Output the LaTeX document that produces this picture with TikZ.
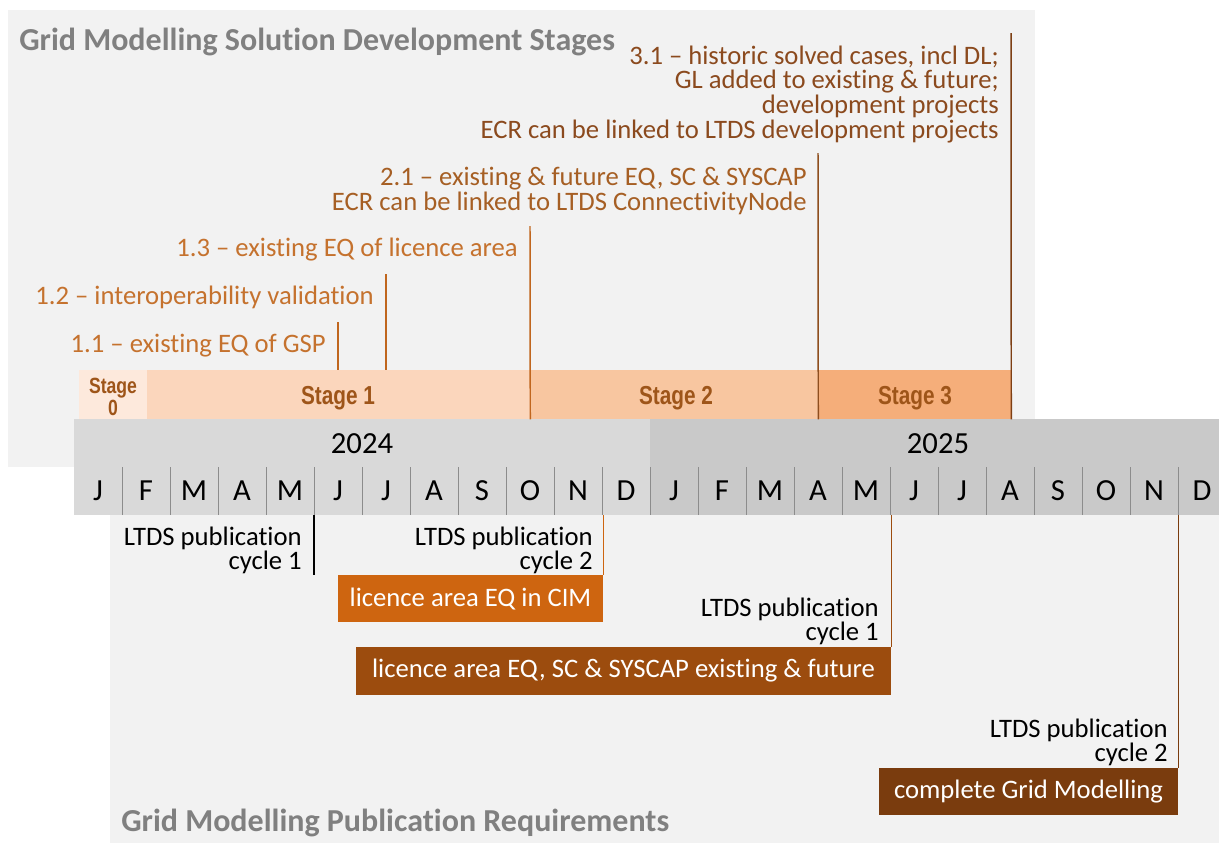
\documentclass[tikz,border=0pt]{standalone}
\usepackage{fontspec}
\setmainfont{Carlito}[Ligatures=NoCommon]
\newfontfamily\narrowsans{Liberation Sans}
\usetikzlibrary{positioning}

\definecolor{panelgray}{HTML}{F2F2F2}
\definecolor{yeargrayA}{HTML}{D9D9D9}
\definecolor{yeargrayB}{HTML}{C9C9C9}
\definecolor{stagezero}{HTML}{FDE9DC}
\definecolor{stageone}{HTML}{FBD6BC}
\definecolor{stagetwo}{HTML}{F8C6A0}
\definecolor{stagethree}{HTML}{F5AE7A}
\definecolor{stagetext}{HTML}{9E5519}
\definecolor{mileone}{HTML}{C5722E}
\definecolor{miletwo}{HTML}{A65F24}
\definecolor{milethree}{HTML}{8B4A1E}
\definecolor{lineone}{HTML}{C0661E}
\definecolor{linetwo}{HTML}{8E4E1E}
\definecolor{linethree}{HTML}{7D3F14}
\definecolor{boxone}{HTML}{CE6510}
\definecolor{boxtwo}{HTML}{9C4C0E}
\definecolor{boxthree}{HTML}{7A3C0E}
\definecolor{titlegray}{HTML}{808080}

\newlength\px
\setlength\px{0.75pt}

\begin{document}
\begin{tikzpicture}[x=0.75pt,y=-0.75pt]
  \tikzstyle{band}=[rectangle, inner sep=0pt, draw=none]
  \tikzstyle{stagelbl}=[anchor=base, inner sep=0pt, text=stagetext, font=\narrowsans\bfseries\fontsize{19.5}{20}\selectfont]
  \tikzstyle{yearlbl}=[anchor=base, inner sep=0pt, font=\fontsize{23}{24}\selectfont]
  \tikzstyle{monthlbl}=[anchor=base, inner sep=0pt, font=\fontsize{23}{24}\selectfont]
  \tikzstyle{monthsep}=[draw=black!45, line width=0.6pt]
  \tikzstyle{miletext}=[anchor=base east, align=right, inner sep=0pt, font=\fontsize{20}{18.5}\selectfont]
  \tikzstyle{mileline}=[line width=1.1pt]
  \tikzstyle{pubtext}=[anchor=base east, align=right, inner sep=0pt, font=\fontsize{20}{18}\selectfont]
  \tikzstyle{publine}=[line width=1.1pt]
  \tikzstyle{reqbox}=[rectangle, inner sep=0pt, text=white, font=\fontsize{20}{20}\selectfont]
  \tikzstyle{title}=[anchor=base west, inner sep=0pt, text=titlegray, font=\bfseries\fontsize{24}{24}\selectfont]

  \useasboundingbox (0,0) rectangle (1219,843);

  % background panels
  \fill[panelgray] (8,10) rectangle (1035,467);
  \fill[panelgray] (110,515) rectangle (1219,843);

  % years and months
  \node[band, fill=yeargrayA, minimum width=576\px, minimum height=96\px] (y2024) at (362,467) {};
  \node[band, fill=yeargrayB, minimum width=569\px, minimum height=96\px] (y2025) at (934.5,467) {};
  \node[yearlbl] (yr24) at (362,453) {2024};
  \node[yearlbl] (yr25) at (938,453) {2025};
  \foreach \i in {1,...,23}
    \draw[monthsep] (74+48*\i,467) -- (74+48*\i,515);
  \foreach \m [count=\i from 0] in {J,F,M,A,M,J,J,A,S,O,N,D,J,F,M,A,M,J,J,A,S,O,N,D}
    \node[monthlbl] (mon\i) at (98+48*\i,500) {\m};

  % stages
  \node[band, fill=stagezero, minimum width=68\px, minimum height=49\px] (stage0) at (113,394.5) {};
  \node[band, fill=stageone, minimum width=383\px, minimum height=49\px] (stage1) at (338.5,394.5) {};
  \node[band, fill=stagetwo, minimum width=288\px, minimum height=49\px] (stage2) at (674,394.5) {};
  \node[band, fill=stagethree, minimum width=193\px, minimum height=49\px] (stage3) at (914.5,394.5) {};
  \node[stagelbl, align=center, font=\narrowsans\bfseries\fontsize{16.5}{14.25}\selectfont] (lbl0) at (113,415)
    {\scalebox{0.8}[1]{Stage}\\\scalebox{0.8}[1]{0}};
  \node[stagelbl] (lbl1) at (338,404) {\scalebox{0.8}[1]{Stage 1}};
  \node[stagelbl] (lbl2) at (676,404) {\scalebox{0.8}[1]{Stage 2}};
  \node[stagelbl] (lbl3) at (915,404) {\scalebox{0.8}[1]{Stage 3}};

  % development milestones
  \coordinate (m11top) at (338,322);
  \coordinate (m12top) at (386,274);
  \coordinate (m13top) at (530,226);
  \coordinate (m21top) at (818,153);
  \coordinate (m31top) at (1011,33);

  \path (m11top) edge [mileline, lineone] (m11top |- stage1.north)
        (m12top) edge [mileline, lineone] (m12top |- stage1.north)
        (m13top) edge [mileline, lineone] (stage1.south east)
        (m21top) edge [mileline, linetwo] (stage2.south east)
        (m31top) edge [mileline, linethree] (stage3.south east);

  \node[miletext, text=mileone] (m11) at (326,352) {1.1 -- existing EQ of GSP};
  \node[miletext, text=mileone] (m12) at (374,304) {1.2 -- interoperability validation};
  \node[miletext, text=mileone] (m13) at (518,256) {1.3 -- existing EQ of licence area};
  \node[miletext, text=miletwo] (m21) at (807,210)
    {2.1 -- existing \& future EQ, SC \& SYSCAP\\ECR can be linked to LTDS ConnectivityNode};
  \node[miletext, text=milethree] (m31) at (999,138)
    {3.1 -- historic solved cases, incl DL;\\GL added to existing \& future;\\development projects\\ECR can be linked to LTDS development projects};

  % publication requirements
  \node[reqbox, fill=boxone, minimum width=265\px, minimum height=47\px] (eqcim) at (470.5,598.5) {licence area EQ in CIM};
  \node[reqbox, fill=boxtwo, minimum width=535\px, minimum height=48\px] (eqfull) at (623.5,671) {licence area EQ, SC \& SYSCAP existing \& future};
  \node[reqbox, fill=boxthree, minimum width=299\px, minimum height=47\px] (gridfull) at (1028.5,791.5) {complete Grid Modelling};

  \coordinate (cyc1end) at (314,575);
  \path (cyc1end |- y2024.south) edge [publine, black] (cyc1end)
        (eqcim.north east |- y2024.south) edge [publine, boxone] (eqcim.north east)
        (eqfull.north east |- y2025.south) edge [publine, boxtwo] (eqfull.north east)
        (gridfull.north east |- y2025.south) edge [publine, boxthree] (gridfull.north east);

  \node[pubtext] (pub1a) at (302,569) {LTDS publication\\cycle 1};
  \node[pubtext] (pub2a) at (593,569) {LTDS publication\\cycle 2};
  \node[pubtext] (pub1b) at (879,640) {LTDS publication\\cycle 1};
  \node[pubtext] (pub2b) at (1168,761) {LTDS publication\\cycle 2};

  % titles
  \node[title] (devtitle) at (19,50) {Grid Modelling Solution Development Stages};
  \node[title] (reqtitle) at (121,831) {Grid Modelling Publication Requirements};
\end{tikzpicture}
\end{document}
